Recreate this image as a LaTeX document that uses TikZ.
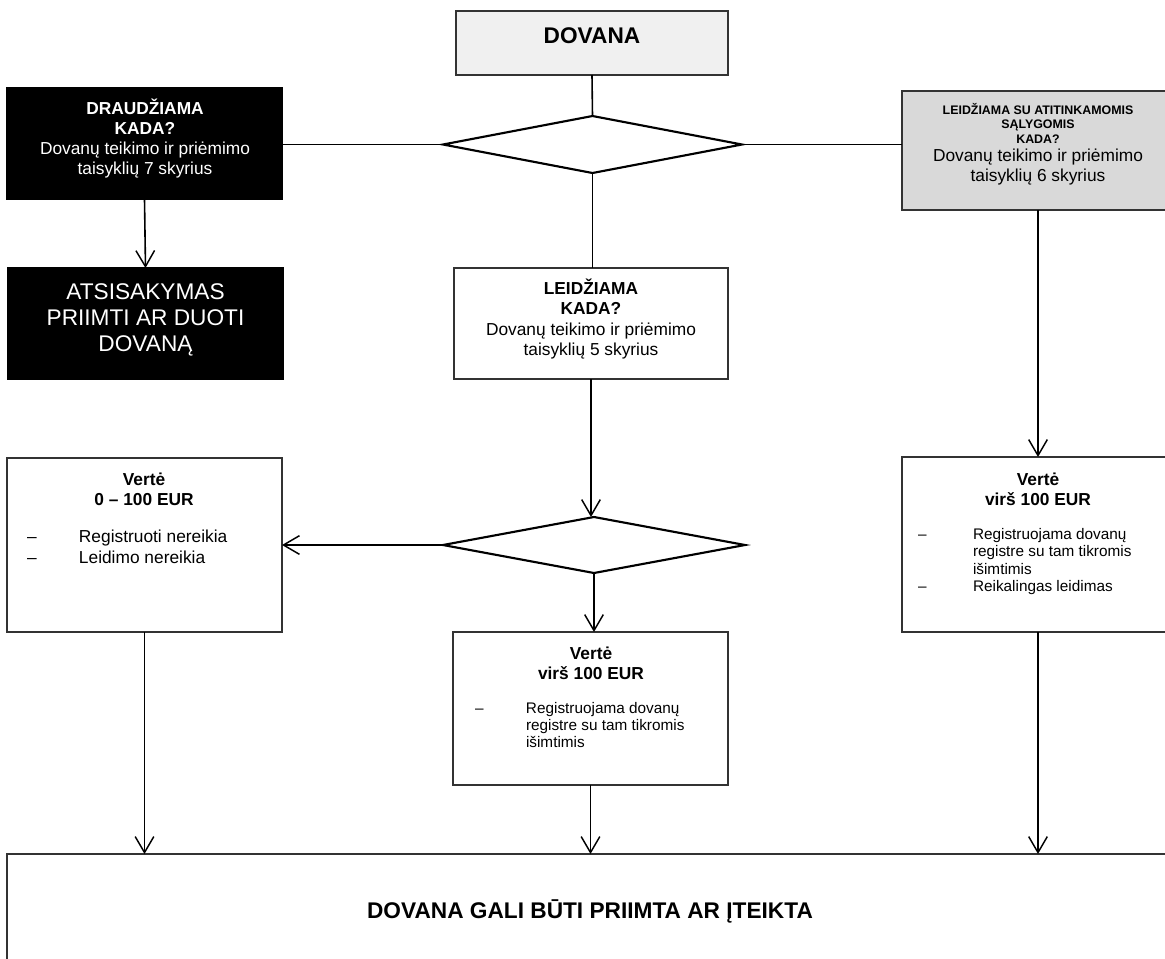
\documentclass[tikz,border=0pt]{standalone}
\usepackage{fontspec}
\setmainfont{Liberation Sans}
\usetikzlibrary{arrows.meta,shapes.geometric}
\newcommand{\ctab}[1]{\begin{tabular}[t]{@{}c@{}}#1\end{tabular}}
\newcommand{\ltab}[2]{\begin{tabular}[t]{@{}p{#1}@{}l@{}}#2\end{tabular}}
\tikzset{
  box/.style={draw=black!80, line width=1.1pt, rectangle, inner sep=0pt, outer sep=0pt},
  blackbox/.style={box, fill=black, draw=black},
  dia/.style={draw=black, line width=1.6pt, diamond, inner sep=0pt, outer sep=0pt},
  txt/.style={inner sep=0pt, outer sep=0pt},
  conn/.style={draw=black, line width=1.2pt},
  arr/.style={conn, -{Straight Barb[length=12pt,width=14pt,line width=1.1pt]}, line join=round}
}
\begin{document}
\begin{tikzpicture}[x=0.75pt,y=-0.75pt]
\useasboundingbox (0,0) rectangle (1165,958);
\clip (0,0) rectangle (1165,958);
\fill[white] (0,0) rectangle (1165,958);

% boxes
\node[box, fill=black!6, minimum width=204pt, minimum height=48pt] (dovana) at (592,43) {};
\node[blackbox, minimum width=206.25pt, minimum height=83.25pt] (draud) at (144.5,143.5) {};
\node[blackbox, minimum width=206.25pt, minimum height=83.25pt] (atsis) at (145.5,323.5) {};
\node[box, fill=white, minimum width=205.5pt, minimum height=83.25pt] (leid) at (591,323.5) {};
\node[box, fill=black!15, minimum width=204pt, minimum height=89.25pt] (salyg) at (1038,150.5) {};
\node[box, fill=white, minimum width=206.25pt, minimum height=130.5pt] (val1) at (144.5,545) {};
\node[box, fill=white, minimum width=206.25pt, minimum height=114.75pt] (val2) at (590.5,708.5) {};
\node[box, fill=white, minimum width=204pt, minimum height=131.25pt] (val3) at (1038,544.5) {};
\node[box, fill=white, minimum width=875.25pt, minimum height=85.5pt] (final) at (590.5,911) {};

% diamonds
\node[dia, minimum width=224.25pt, minimum height=42.75pt] (d1) at (592.5,144.5) {};
\node[dia, minimum width=226.5pt, minimum height=42pt] (d2) at (594,545) {};

% texts
\node[txt, anchor=base, font=\fontsize{17}{20}\selectfont\bfseries] (t-dovana) at (592,43) {DOVANA};
\node[txt, anchor=base, text=white, font=\fontsize{13}{15.2}\selectfont] (t-draud) at (145,114)
  {\ctab{\textbf{DRAUDŽIAMA}\\\textbf{KADA?}\\Dovanų teikimo ir priėmimo\\taisyklių 7 skyrius}};
\node[txt, anchor=base, text=white, font=\fontsize{17}{19.5}\selectfont] (t-atsis) at (145.5,299)
  {\ctab{ATSISAKYMAS\\PRIIMTI AR DUOTI\\DOVANĄ}};
\node[txt, anchor=base, font=\fontsize{13}{15.4}\selectfont] (t-leid) at (591,294)
  {\ctab{\textbf{LEIDŽIAMA}\\\textbf{KADA?}\\Dovanų teikimo ir priėmimo\\taisyklių 5 skyrius}};
\node[txt, anchor=base, font=\fontsize{9.3}{10.9}\selectfont\bfseries] (t-salyg1) at (1038,114)
  {\ctab{LEIDŽIAMA SU ATITINKAMOMIS\\SĄLYGOMIS\\KADA?}};
\node[txt, anchor=base, font=\fontsize{13}{15}\selectfont] (t-salyg2) at (1038,161)
  {\ctab{Dovanų teikimo ir priėmimo\\taisyklių 6 skyrius}};

\node[txt, anchor=base, font=\fontsize{13}{15}\selectfont\bfseries] (h-val1) at (144,485)
  {\ctab{Vertė\\0 – 100 EUR}};
\node[txt, anchor=base west, font=\fontsize{13}{15.75}\selectfont] (l-val1) at (27,542)
  {\ltab{39pt}{–&Registruoti nereikia\\–&Leidimo nereikia}};

\node[txt, anchor=base, font=\fontsize{13}{15}\selectfont\bfseries] (h-val2) at (591,659)
  {\ctab{Vertė\\virš 100 EUR}};
\node[txt, anchor=base west, font=\fontsize{11.5}{12.75}\selectfont] (l-val2) at (475,713)
  {\ltab{38.25pt}{–&Registruojama dovanų\\&registre su tam tikromis\\&išimtimis}};

\node[txt, anchor=base, font=\fontsize{13}{15.5}\selectfont\bfseries] (h-val3) at (1038,485)
  {\ctab{Vertė\\virš 100 EUR}};
\node[txt, anchor=base west, font=\fontsize{11.5}{13.2}\selectfont] (l-val3) at (918,539)
  {\ltab{41.25pt}{–&Registruojama dovanų\\&registre su tam tikromis\\&išimtimis\\–&Reikalingas leidimas}};

\node[txt, anchor=base, font=\fontsize{17}{20}\selectfont\bfseries] (t-final) at (590,918)
  {DOVANA GALI BŪTI PRIIMTA AR ĮTEIKTA};

% connectors
\draw[conn] (dovana.south) -- (d1.north);
\draw[conn] (d1.west) -- (d1.west -| draud.east);
\draw[conn] (d1.east) -- (d1.east -| salyg.west);
\draw[conn] (d1.south) -- (d1.south |- leid.north);
\draw[arr] (draud.south) -- (atsis.north);
\draw[arr] (salyg.south) -- (val3.north);
\draw[arr] (leid.south) -- (leid.south |- d2.north);
\draw[arr] (d2.west) -- (d2.west -| val1.east);
\draw[arr] (d2.south) -- (d2.south |- val2.north);
\draw[arr] (val1.south) -- (val1.south |- final.north);
\draw[arr] (val2.south) -- (val2.south |- final.north);
\draw[arr] (val3.south) -- (val3.south |- final.north);
\end{tikzpicture}
\end{document}
